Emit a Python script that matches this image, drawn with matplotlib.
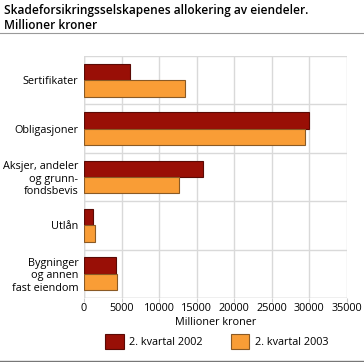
import matplotlib.pyplot as plt
import numpy as np
from matplotlib.lines import Line2D

plt.rcParams['font.family'] = ['Open Sans', 'DejaVu Sans']

categories = ['Sertifikater', 'Obligasjoner', 'Aksjer, andeler\nog grunn-\nfondsbevis',
              'Utlån', 'Bygninger\nog annen\nfast eiendom']
kv2002 = [6100, 30000, 15900, 1200, 4300]
kv2003 = [13400, 29500, 12700, 1500, 4400]

red = '#990f06'
orange = '#f99d36'

fig = plt.figure(figsize=(3.64, 3.62), dpi=100)
ax = fig.add_axes([0.2308, 0.177, 0.7212, 0.668])

y = np.arange(len(categories))
h = 0.34
ax.barh(y - h / 2, kv2002, h, color=red, edgecolor='#5a0a05', linewidth=0.8,
        label='2. kvartal 2002', zorder=3)
ax.barh(y + h / 2, kv2003, h, color=orange, edgecolor='#8a5a25', linewidth=0.8,
        label='2. kvartal 2003', zorder=3)

ax.set_ylim(len(categories) - 0.5, -0.5)
ax.set_xlim(0, 35000)
ax.set_xticks(np.arange(0, 35001, 5000))
ax.set_yticks(y)
ax.set_yticklabels(categories, fontsize=7.8, linespacing=1.15)
ax.tick_params(axis='x', labelsize=7.8, length=3, color='#cccccc', pad=1)
ax.tick_params(axis='y', length=0, pad=4)
ax.set_yticks(np.arange(len(categories) + 1) - 0.5, minor=True)
ax.tick_params(axis='y', which='minor', length=0)
ax.grid(axis='x', color='#d9d9d9', linewidth=1, zorder=0)
ax.grid(axis='y', which='minor', color='#d9d9d9', linewidth=1, zorder=0)
for s in ax.spines.values():
    s.set_visible(False)
ax.axvline(0, color='#cccccc', linewidth=1, zorder=1)
ax.axhline(len(categories) - 0.5, color='#cccccc', linewidth=1, zorder=1)
ax.set_xlabel('Millioner kroner', fontsize=7.8, labelpad=2)

fig.legend(loc='lower center', bbox_to_anchor=(0.595, 0.01), ncol=2, frameon=False,
           fontsize=7.8, handlelength=1.7, handleheight=1.7, columnspacing=2.6,
           handletextpad=0.5)

fig.text(0.01, 0.99, 'Skadeforsikringsselskapenes allokering av eiendeler.\nMillioner kroner',
         fontsize=8.6, fontweight='semibold', va='top', ha='left', linespacing=1.2)
fig.add_artist(Line2D([0, 1], [0.908, 0.908], color='#999999', linewidth=0.8))
fig.add_artist(Line2D([0, 1], [0.004, 0.004], color='#777777', linewidth=1))

fig.savefig('out.png', dpi=100)
